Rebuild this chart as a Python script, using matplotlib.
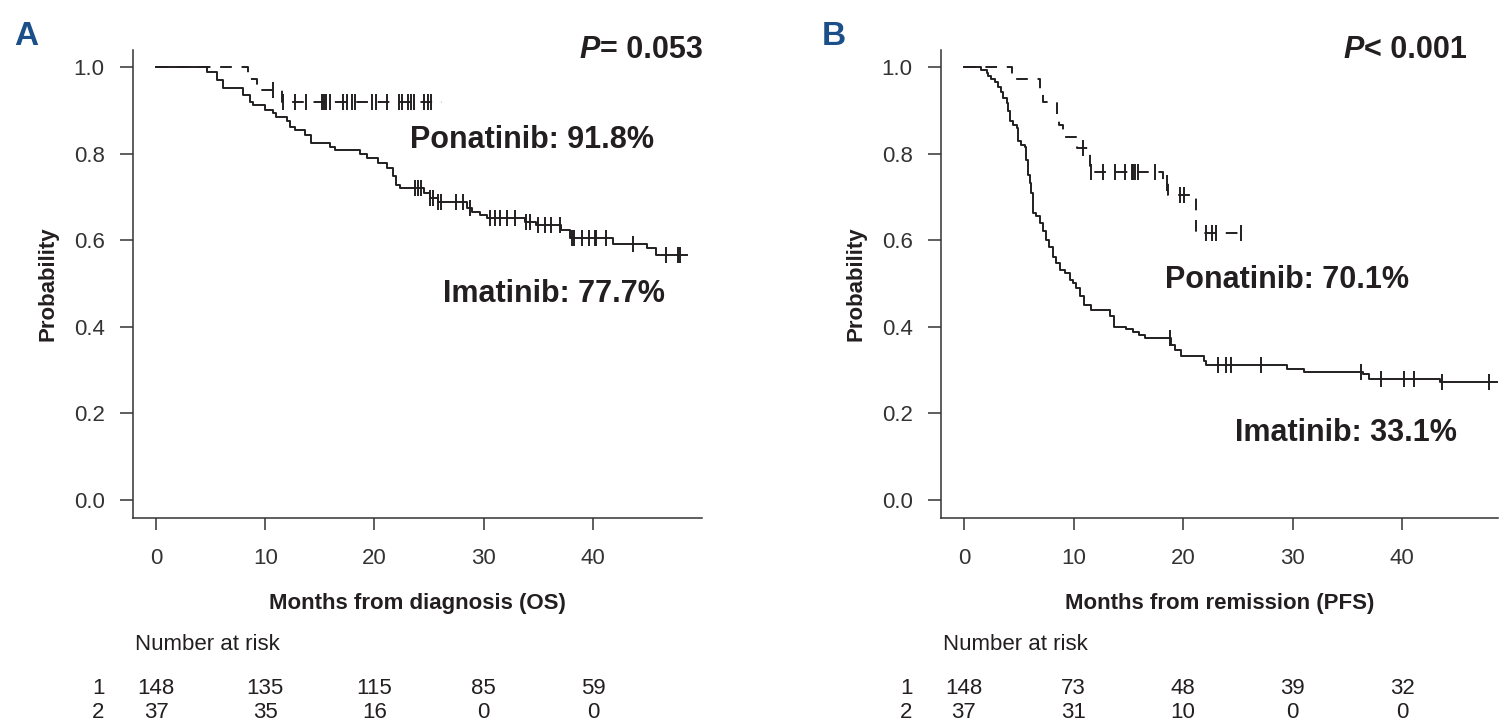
import numpy as np
import matplotlib.pyplot as plt
from matplotlib.transforms import blended_transform_factory

plt.rcParams['font.family'] = ['Liberation Sans', 'DejaVu Sans']

# ---- Panel A: overall survival (months from diagnosis) ----
os_ima_t = [0, 4.7, 5.6, 6.1, 8.0, 8.6, 8.9, 10.0, 10.7, 11.0, 12.0, 12.3, 12.7, 13.6,
            14.2, 15.9, 16.4, 18.7, 19.3, 20.3, 21.1, 21.7, 22.0, 22.3, 24.5, 25.1,
            25.8, 28.5, 28.9, 29.7, 30.3, 33.8, 34.8, 37.1, 37.9, 41.8, 44.9, 45.8]
os_ima_s = [1.0, 0.989, 0.970, 0.951, 0.935, 0.920, 0.912, 0.900, 0.894, 0.885, 0.874,
            0.862, 0.855, 0.843, 0.824, 0.816, 0.808, 0.800, 0.789, 0.778, 0.766, 0.747,
            0.728, 0.720, 0.708, 0.697, 0.689, 0.674, 0.666, 0.658, 0.651, 0.643, 0.635,
            0.624, 0.604, 0.591, 0.581, 0.566]
os_ima_end = 48.6
os_ima_cens = [23.7, 24.0, 24.3, 25.1, 25.4, 25.8, 26.1, 27.5, 28.1, 28.7, 30.6, 31.0,
               31.5, 32.1, 32.9, 33.9, 34.2, 35.0, 35.6, 36.2, 37.0, 38.1, 38.3, 39.0,
               39.6, 40.2, 40.3, 41.2, 43.7, 46.7, 47.8, 48.0]

os_pon_t = [0, 8.4, 9.2, 11.5]
os_pon_s = [1.0, 0.973, 0.946, 0.919]
os_pon_end = 26.2
os_pon_cens = [10.7, 11.6, 12.7, 13.7, 15.2, 15.4, 15.6, 15.9, 17.1, 17.5, 17.9, 18.2,
               19.8, 20.1, 21.1, 22.2, 22.5, 23.1, 23.3, 23.6, 24.5, 24.9, 25.2]

# ---- Panel B: progression-free survival (months from remission) ----
pfs_ima_t = [0, 1.6, 2.1, 2.2, 2.5, 2.8, 3.1, 3.4, 3.6, 3.9, 4.0, 4.2, 4.5, 4.8, 4.95,
             5.25, 5.55, 5.7, 5.85, 6.0, 6.15, 6.3, 6.6, 6.9, 7.2, 7.5, 7.8, 8.1, 8.4,
             8.75, 9.2, 9.65, 9.95, 10.25, 10.6, 11.0, 11.6, 13.3, 13.7, 14.8, 15.4,
             16.0, 16.5, 18.9, 19.3, 19.8, 21.9, 22.1, 29.5, 31.0, 36.4, 37.0, 43.5]
pfs_ima_s = [1.0, 0.993, 0.986, 0.980, 0.973, 0.966, 0.953, 0.943, 0.928, 0.916, 0.897,
             0.874, 0.866, 0.858, 0.828, 0.820, 0.814, 0.785, 0.751, 0.731, 0.708, 0.662,
             0.655, 0.639, 0.620, 0.600, 0.585, 0.562, 0.547, 0.531, 0.523, 0.508, 0.500,
             0.489, 0.470, 0.450, 0.439, 0.425, 0.400, 0.395, 0.389, 0.381, 0.374, 0.358,
             0.346, 0.333, 0.322, 0.312, 0.303, 0.296, 0.290, 0.279, 0.272]
pfs_ima_end = 48.7
pfs_ima_cens = [18.8, 23.2, 23.9, 24.4, 27.1, 36.2, 38.1, 40.2, 41.1, 43.6, 47.9]

pfs_pon_t = [0, 4.35, 6.9, 7.2, 8.45, 8.7, 9.0, 10.3, 11.5, 18.2, 18.6, 21.2]
pfs_pon_s = [1.0, 0.973, 0.946, 0.919, 0.892, 0.865, 0.838, 0.812, 0.758, 0.731, 0.704, 0.616]
pfs_pon_end = 25.8
pfs_pon_cens = [10.9, 11.6, 12.7, 13.8, 14.7, 15.3, 15.4, 15.6, 15.9, 17.4, 18.5, 19.7,
                20.1, 22.1, 22.6, 23.0, 25.3]

# numbers at risk
risk_times = [0, 10, 20, 30, 40]
os_risk_ima = [148, 135, 115, 85, 59]
os_risk_pon = [37, 35, 16, 0, 0]
pfs_risk_ima = [148, 73, 48, 39, 32]
pfs_risk_pon = [37, 31, 10, 0, 0]

INK = '#231f20'
W, H = 1499, 727


def km(ax, t, s, end, cens, dashed=False):
    t = np.asarray(t)
    s = np.asarray(s)
    tt = np.append(t, end)
    ss = np.append(s, s[-1])
    line, = ax.step(tt, ss, where='post', color=INK, lw=1.4)
    if dashed:
        line.set_dashes((6, 5))
    cy = s[np.searchsorted(t, cens, side='right') - 1]
    ax.plot(cens, cy, ls='none', marker='|', ms=12, mew=1.4, color=INK)


def panel(left_px, right_px, x0, x1, letter, letter_px, ptxt, pxy, xlabel,
          ima, pon, ima_lab, pon_lab, risk1, risk2):
    ax = fig.add_axes([left_px / W, 1 - 518 / H, (right_px - left_px) / W, (518 - 50) / H])
    km(ax, *ima)
    km(ax, *pon, dashed=True)
    ax.set_xlim(x0, x1)
    ax.set_ylim(-0.0416, 1.039)
    ax.set_xticks(risk_times)
    ax.set_yticks(np.arange(0, 1.01, 0.2))
    ax.set_yticklabels(['%.1f' % v for v in np.arange(0, 1.01, 0.2)])
    for sp in ['top', 'right']:
        ax.spines[sp].set_visible(False)
    for sp in ['left', 'bottom']:
        ax.spines[sp].set_linewidth(1.1)
        ax.spines[sp].set_color('#333333')
    ax.tick_params(axis='y', direction='out', length=9.4, width=1.1, pad=11, labelsize=16,
                   colors='#333333')
    ax.tick_params(axis='x', direction='out', length=8.6, width=1.1, pad=13, labelsize=16,
                   colors='#333333')

    # curve labels
    ax.text(ima_lab[0], ima_lab[1], ima_lab[2], fontsize=22, fontweight='bold', color=INK,
            ha='left', va='baseline')
    ax.text(pon_lab[0], pon_lab[1], pon_lab[2], fontsize=22, fontweight='bold', color=INK,
            ha='left', va='baseline')
    # p value: italic P + rest
    t = ax.text(pxy[0], pxy[1], ptxt, fontsize=22, fontweight='bold', color=INK,
                ha='right', va='baseline')
    ax.annotate('P', xy=(0, 0), xycoords=t, fontsize=22, fontweight='bold',
                fontstyle='italic', color=INK, ha='right', va='bottom')

    # panel letter and axis titles
    fig.text(letter_px / W, 1 - 45 / H, letter, fontsize=24, fontweight='bold',
             color='#1b4f8a', ha='left', va='baseline')
    fig.text((left_px - 85) / W, 1 - 284 / H, 'Probability', rotation=90, fontsize=16,
             fontweight='bold', color=INK, ha='center', va='center')
    fig.text((left_px + right_px) / 2 / W, 1 - 604 / H, xlabel, fontsize=16,
             fontweight='bold', color=INK, ha='center', va='center')

    # number at risk table
    tr = blended_transform_factory(ax.transData, fig.transFigure)
    fig.text((left_px + 2) / W, 1 - 645 / H, 'Number at risk', fontsize=16, color=INK,
             ha='left', va='center')
    for row, (lab, vals) in enumerate([('1', risk1), ('2', risk2)]):
        yy = 1 - (689 + 24 * row) / H
        fig.text((left_px - 35) / W, yy, lab, fontsize=16, color=INK, ha='center', va='center')
        for xt, v in zip(risk_times, vals):
            ax.text(xt, yy, str(v), transform=tr, fontsize=16, color=INK,
                    ha='center', va='center', clip_on=False)
    return ax


fig = plt.figure(figsize=(W / 100, H / 100), dpi=100)

panel(133, 702, -2.105, 49.98, 'A', 14, '= 0.053', (50.07, 1.021),
      'Months from diagnosis (OS)',
      (os_ima_t, os_ima_s, os_ima_end, os_ima_cens),
      (os_pon_t, os_pon_s, os_pon_end, os_pon_cens),
      (26.27, 0.457, 'Imatinib: 77.7%'), (23.25, 0.813, 'Ponatinib: 91.8%'),
      os_risk_ima, os_risk_pon)

panel(941, 1498, -2.096, 48.75, 'B', 822, '< 0.001', (45.92, 1.021),
      'Months from remission (PFS)',
      (pfs_ima_t, pfs_ima_s, pfs_ima_end, pfs_ima_cens),
      (pfs_pon_t, pfs_pon_s, pfs_pon_end, pfs_pon_cens),
      (24.7, 0.136, 'Imatinib: 33.1%'), (18.31, 0.490, 'Ponatinib: 70.1%'),
      pfs_risk_ima, pfs_risk_pon)

fig.savefig('out.png', dpi=100)
